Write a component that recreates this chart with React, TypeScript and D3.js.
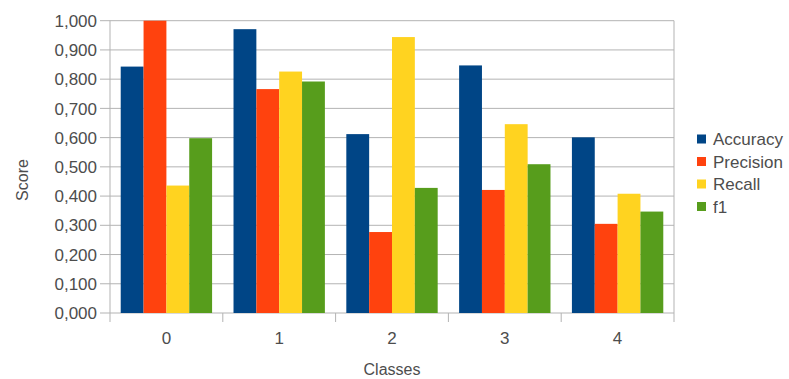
import React from "react";
import * as d3 from "d3";

const classes = ["0", "1", "2", "3", "4"];
const seriesNames = ["Accuracy", "Precision", "Recall", "f1"];
const accuracy = [0.843, 0.971, 0.612, 0.847, 0.601];
const precision = [1.0, 0.766, 0.277, 0.421, 0.305];
const recall = [0.436, 0.826, 0.944, 0.646, 0.408];
const f1 = [0.598, 0.792, 0.428, 0.509, 0.347];
const seriesColors = ["#004586", "#ff420e", "#ffd320", "#579d1c"];
const yTicks = [0, 0.1, 0.2, 0.3, 0.4, 0.5, 0.6, 0.7, 0.8, 0.9, 1.0];

const W = 789;
const H = 379;
const plot = { left: 110, right: 674, top: 20.7, bottom: 313 };

export default function App() {
  const values = [accuracy, precision, recall, f1];
  const x = d3
    .scaleBand<string>()
    .domain(classes)
    .range([plot.left, plot.right])
    .paddingInner(0.19)
    .paddingOuter(0.095);
  const step = (plot.right - plot.left) / classes.length;
  const xs = d3.scaleBand<string>().domain(seriesNames).range([0, x.bandwidth()]);
  const y = d3.scaleLinear().domain([0, 1]).range([plot.bottom, plot.top]);
  const fmt = (v: number) => v.toFixed(3).replace(".", ",");
  const font = "'Liberation Sans', Arial, sans-serif";
  const textColor = "#4d4d4d";
  const gridColor = "#b3b3b3";

  return (
    <svg
      width={W}
      height={H}
      style={{ position: "absolute", left: 0, top: 0, background: "#fff" }}
      fontFamily={font}
    >
      {/* horizontal gridlines and y tick marks */}
      {yTicks.map((t) => (
        <g key={t}>
          <line x1={plot.left - 10} x2={plot.right} y1={y(t)} y2={y(t)} stroke={gridColor} strokeWidth={1} />
          <text x={97} y={y(t)} dy="0.36em" textAnchor="end" fontSize={17} fill={textColor}>
            {fmt(t)}
          </text>
        </g>
      ))}
      {/* plot frame sides */}
      <line x1={plot.left} x2={plot.left} y1={plot.top} y2={plot.bottom + 9} stroke={gridColor} />
      <line x1={plot.right} x2={plot.right} y1={plot.top} y2={plot.bottom + 9} stroke={gridColor} />
      {/* category boundary ticks */}
      {d3.range(1, classes.length).map((i) => (
        <line
          key={i}
          x1={plot.left + i * step}
          x2={plot.left + i * step}
          y1={plot.bottom}
          y2={plot.bottom + 9}
          stroke={gridColor}
        />
      ))}
      {/* bars */}
      {classes.map((c, ci) => (
        <g key={c} transform={`translate(${x(c)},0)`}>
          {seriesNames.map((s, si) => (
            <rect
              key={s}
              x={xs(s)}
              y={y(values[si][ci])}
              width={xs.bandwidth()}
              height={y(0) - y(values[si][ci])}
              fill={seriesColors[si]}
            />
          ))}
        </g>
      ))}
      {/* x tick labels */}
      {classes.map((c) => (
        <text
          key={c}
          x={(x(c) as number) + x.bandwidth() / 2}
          y={338}
          dy="0.36em"
          textAnchor="middle"
          fontSize={17}
          fill={textColor}
        >
          {c}
        </text>
      ))}
      {/* axis titles */}
      <text x={(plot.left + plot.right) / 2} y={375} textAnchor="middle" fontSize={16} fill={textColor}>
        Classes
      </text>
      <text
        transform={`translate(22,${180}) rotate(-90)`}
        dy="0.36em"
        textAnchor="middle"
        fontSize={16}
        fill={textColor}
      >
        Score
      </text>
      {/* legend */}
      {seriesNames.map((s, i) => (
        <g key={s} transform={`translate(697,${139 + i * 22.5})`}>
          <rect x={0} y={-4.5} width={9} height={9} fill={seriesColors[i]} />
          <text x={16} y={0} dy="0.36em" fontSize={17} fill={textColor}>
            {s}
          </text>
        </g>
      ))}
    </svg>
  );
}
